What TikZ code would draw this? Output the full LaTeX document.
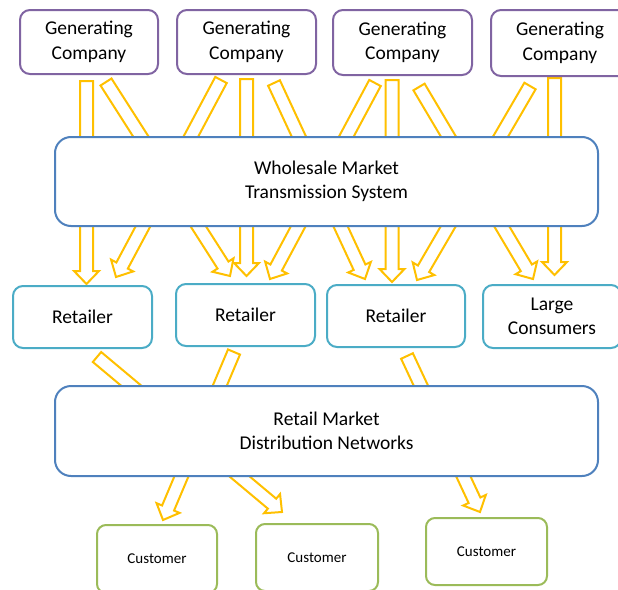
\documentclass[tikz,border=0pt]{standalone}
\usepackage{fontspec}
\setmainfont{Carlito}
\usetikzlibrary{calc}
\definecolor{genc}{HTML}{8064A2}
\definecolor{mktc}{HTML}{4F81BD}
\definecolor{retc}{HTML}{4BACC6}
\definecolor{cusc}{HTML}{9BBB59}
\definecolor{arrc}{HTML}{FFC000}
\tikzset{
  box/.style={draw, line width=2pt, fill=white, align=center, inner sep=0pt,
    font=\fontsize{19.5}{24.5}\selectfont},
  genbox/.style={box, draw=genc, rounded corners=10pt, minimum width=138pt, minimum height=64pt},
  mktbox/.style={box, draw=mktc, rounded corners=16pt, minimum width=543pt, minimum height=89pt},
  retbox/.style={box, draw=retc, rounded corners=10pt, minimum width=138pt, minimum height=62pt},
  cusbox/.style={box, draw=cusc, rounded corners=9pt, minimum width=121pt, minimum height=67pt,
    font=\fontsize{15}{18}\selectfont},
  blockarrow/.style={draw=arrc, line width=2pt, fill=white, line join=miter}
}
\newcommand\barrow[2]{%
  \coordinate (hb) at ($(#2)!13pt!(#1)$);
  \draw[blockarrow] ($(#1)!6.5pt!90:(#2)$) -- ($(hb)!6.5pt!-90:(#1)$) -- ($(hb)!12.5pt!-90:(#1)$) -- (#2) -- ($(hb)!12.5pt!90:(#1)$) -- ($(hb)!6.5pt!90:(#1)$) -- ($(#1)!6.5pt!-90:(#2)$) -- cycle;
}
\begin{document}
\begin{tikzpicture}[x=1pt, y=-1pt]
\useasboundingbox (0,0) rectangle (618,589);
\clip (0,0) rectangle (618,589);
% arrow end points
\coordinate (g1a) at (86.5,81);  \coordinate (r1a) at (86.5,284);
\coordinate (g1b) at (106,82);   \coordinate (r2a) at (230,276);
\coordinate (g2a) at (221,80);   \coordinate (r1b) at (116,277);
\coordinate (g2b) at (246.5,79); \coordinate (r2b) at (246.5,276);
\coordinate (g2c) at (274,83);   \coordinate (r3a) at (365,279);
\coordinate (g3a) at (375,83);   \coordinate (r2c) at (270,279);
\coordinate (g3b) at (392,80);   \coordinate (r3b) at (392,282);
\coordinate (g3c) at (419,87);   \coordinate (lca) at (533,279);
\coordinate (g4a) at (530,86);   \coordinate (r3c) at (417,280);
\coordinate (g4b) at (554.5,78); \coordinate (lcb) at (554.5,275);
\coordinate (r1s) at (97,357);   \coordinate (c2t) at (282,512);
\coordinate (r2s) at (234,352);  \coordinate (c1t) at (163,520);
\coordinate (r3s) at (407,356);  \coordinate (c3t) at (480,512);
% arrows
\barrow{g1a}{r1a}
\barrow{g1b}{r2a}
\barrow{g2a}{r1b}
\barrow{g2b}{r2b}
\barrow{g2c}{r3a}
\barrow{g3a}{r2c}
\barrow{g3b}{r3b}
\barrow{g3c}{lca}
\barrow{g4a}{r3c}
\barrow{g4b}{lcb}
\barrow{r1s}{c2t}
\barrow{r2s}{c1t}
\barrow{r3s}{c3t}
% boxes
\node[genbox] (gc1) at (89,42) {Generating\\Company};
\node[genbox, minimum width=139pt] (gc2) at (246.5,42) {Generating\\Company};
\node[genbox, minimum width=139pt, minimum height=65pt] (gc3) at (402.5,42.5) {Generating\\Company};
\node[genbox, minimum height=66pt] (gc4) at (560,43) {Generating\\Company};
\node[mktbox] (whs) at (326.5,181.5) {Wholesale Market\\Transmission System};
\node[retbox, minimum width=139pt] (ret1) at (82.5,317) {Retailer};
\node[retbox, minimum width=139pt] (ret2) at (245.5,315) {Retailer};
\node[retbox] (ret3) at (396,316) {Retailer};
\node[retbox, minimum height=63pt] (lcn) at (552,316.5) {Large\\Consumers};
\node[mktbox, minimum height=90pt] (dst) at (326.5,431) {Retail Market\\Distribution Networks};
\node[cusbox, minimum width=120pt, minimum height=68pt] (cu1) at (157,559) {Customer};
\node[cusbox, minimum width=122pt] (cu2) at (317,557.5) {Customer};
\node[cusbox] (cu3) at (486.5,551.5) {Customer};
\end{tikzpicture}
\end{document}
